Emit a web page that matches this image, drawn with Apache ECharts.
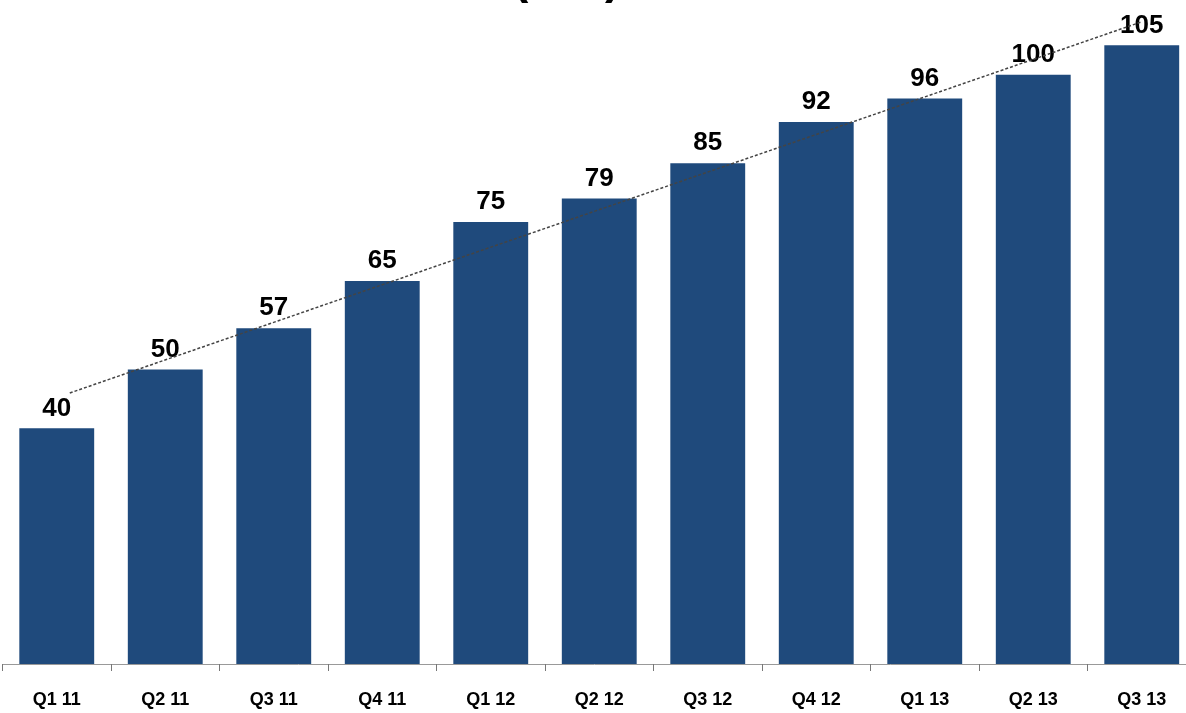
<!DOCTYPE html>
<html>
<head>
<meta charset="utf-8">
<style>
  html, body { margin: 0; padding: 0; background: #fff; }
  #chart { width: 1186px; height: 713px; }
</style>
<script src="https://cdn.jsdelivr.net/npm/echarts@6/dist/echarts.min.js"></script>
</head>
<body>
<div id="chart"></div>
<script>
// quarters on the x axis
var quarters = ['Q1 11', 'Q2 11', 'Q3 11', 'Q4 11', 'Q1 12', 'Q2 12', 'Q3 12', 'Q4 12', 'Q1 13', 'Q2 13', 'Q3 13']
// bar values
var values = [40, 50, 57, 65, 75, 79, 85, 92, 96, 100, 105]
// dashed trend line, start and end points: [category position, value]
var trendStart = [0.12, 46.0]
var trendEnd = [10, 109.0]

var chart = echarts.init(document.getElementById('chart'))

chart.setOption({
  animation: false,
  title: {
    text: '(MM)',
    left: 508,
    top: -48,
    textStyle: {
      fontFamily: 'Liberation Sans',
      fontWeight: 'bold',
      fontSize: 46,
      color: '#000'
    }
  },
  grid: {
    left: 2.5,
    width: 1193.5,
    top: 0,
    bottom: 49,
    containLabel: false,
    outerBoundsMode: 'none'
  },
  xAxis: [{
    type: 'category',
    data: quarters,
    axisLine: {
      onZero: false,
      lineStyle: { color: '#999', width: 1 }
    },
    axisTick: {
      show: true,
      length: 7,
      lineStyle: { color: '#777', width: 1 }
    },
    axisLabel: {
      margin: 27,
      fontFamily: 'Liberation Sans',
      fontWeight: 'bold',
      fontSize: 18,
      color: '#000'
    }
  }, {
    // hidden value axis so the trend line can start between categories
    type: 'value',
    min: -0.5,
    max: 10.5,
    show: false
  }],
  yAxis: {
    type: 'value',
    min: 0,
    max: 112.7,
    show: false,
    splitLine: { show: false }
  },
  series: [{
    type: 'bar',
    data: values,
    barCategoryGap: '31%',
    itemStyle: {
      color: '#1f4a7c'
    },
    label: {
      show: true,
      position: 'top',
      distance: 7,
      fontFamily: 'Liberation Sans',
      fontWeight: 'bold',
      fontSize: 26,
      color: '#000'
    }
  }, {
    type: 'line',
    xAxisIndex: 1,
    data: [trendStart, trendEnd],
    symbol: 'none',
    z: 5,
    lineStyle: {
      color: '#444',
      width: 1.5,
      type: [3, 2]
    }
  }]
})
</script>
</body>
</html>
